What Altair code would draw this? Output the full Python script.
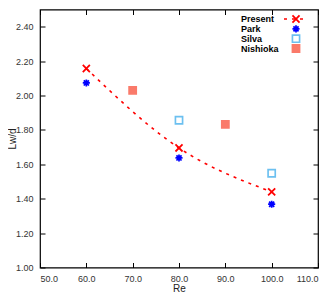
import altair as alt
import pandas as pd

series = ["Present", "Park", "Silva", "Nishioka"]
present_re = [60, 80, 100]
present_lw = [2.157, 1.695, 1.44]
park_re = [60, 80, 100]
park_lw = [2.073, 1.637, 1.368]
silva_re = [80, 100]
silva_lw = [1.856, 1.548]
nishioka_re = [70, 90]
nishioka_lw = [2.03, 1.832]

x_ticks = [50, 60, 70, 80, 90, 100, 110]
y_ticks = [1.0, 1.2, 1.4, 1.6, 1.8, 2.0, 2.2, 2.4]

rows = []
for name, xs, ys in [("Present", present_re, present_lw), ("Park", park_re, park_lw),
                     ("Silva", silva_re, silva_lw), ("Nishioka", nishioka_re, nishioka_lw)]:
    for a, b in zip(xs, ys):
        rows.append({"Re": a, "Lw": b, "series": name})
df = pd.DataFrame(rows)
line_df = pd.DataFrame({"Re": present_re, "Lw": present_lw})
leg_df = pd.DataFrame({"series": series})

FONT = "Liberation Sans"
asterisk = "M-1,0L1,0M0,-1L0,1M-0.72,-0.72L0.72,0.72M-0.72,0.72L0.72,-0.72"
cross = "M-1,-1L1,1M-1,1L1,-1"

xscale = alt.Scale(domain=[50, 110], nice=False, zero=False)
yscale = alt.Scale(domain=[1.0, 2.5], nice=False, zero=False)
legy = alt.Y("series:N", scale=alt.Scale(type="point", domain=series, range=[9.5, 39], padding=0), axis=None)

color_enc = alt.Color("series:N", scale=alt.Scale(domain=series,
                      range=["#ff0000", "#0000ff", "#6cc0f0", "#fa7a6a"]), legend=None)
shape_enc = alt.Shape("series:N", scale=alt.Scale(domain=series,
                      range=[cross, asterisk, "square", "square"]), legend=None)
fill_enc = alt.Fill("series:N", scale=alt.Scale(domain=series,
                    range=["transparent", "transparent", "transparent", "#fa7a6a"]), legend=None)
size_enc = alt.Size("series:N", scale=alt.Scale(domain=series, range=[50, 52, 36, 50]), legend=None)
sw_enc = alt.StrokeWidth("series:N", scale=alt.Scale(domain=series, range=[1.8, 1.6, 1.6, 1.0]), legend=None)


def ax(orient, labels, values, fmt, title=None, tpad=0):
    return alt.Axis(orient=orient, values=values, format=fmt, labels=labels, domain=False,
                    grid=False, ticks=True, tickSize=5, offset=-5, tickColor="black",
                    labelFont=FONT, labelFontSize=9, labelColor="#333333", labelPadding=7,
                    titleFont=FONT, titleFontSize=10, titleFontWeight="normal",
                    titleColor="#222222", title=title, titlePadding=tpad)


line = alt.Chart(line_df).mark_line(
    color="#ff0000", strokeDash=[3, 5], strokeWidth=1.6, interpolate="monotone"
).encode(
    x=alt.X("Re:Q", scale=xscale, axis=ax("top", False, x_ticks, ".1f")),
    y=alt.Y("Lw:Q", scale=yscale, axis=ax("right", False, y_ticks, ".2f")),
)

pts = alt.Chart(df).mark_point(filled=False, opacity=1).encode(
    x=alt.X("Re:Q", scale=xscale, axis=ax("bottom", True, x_ticks, ".1f", "Re", 0)),
    y=alt.Y("Lw:Q", scale=yscale, axis=ax("left", True, y_ticks, ".2f", "Lw/d", -2)),
    color=color_enc, shape=shape_enc, fill=fill_enc, size=size_enc, strokeWidth=sw_enc,
)

leg_rule = alt.Chart(leg_df).transform_filter(alt.datum.series == "Present").mark_rule(
    color="#ff0000", strokeDash=[3, 5], strokeWidth=1.6
).encode(x=alt.value(244), x2=alt.value(268), y=legy)

leg_pts = alt.Chart(leg_df).mark_point(filled=False, opacity=1).encode(
    x=alt.value(256), y=legy,
    color=color_enc, shape=shape_enc, fill=fill_enc, size=size_enc, strokeWidth=sw_enc,
)

leg_txt = alt.Chart(leg_df).mark_text(
    align="left", baseline="middle", font=FONT, fontSize=9, fontWeight="bold", color="black"
).encode(x=alt.value(201), y=legy, text="series:N")

chart = alt.layer(line, pts, leg_rule, leg_pts, leg_txt).resolve_axis(
    x="independent", y="independent"
).resolve_scale(y="independent").properties(
    width=278, height=258, autosize=alt.AutoSizeParams(type="none"),
    padding={"left": 32, "top": 1.5, "right": 6, "bottom": 30},
).configure_view(stroke="black", strokeWidth=1.2)

chart.save("out.html", embed_options={"renderer": "svg", "actions": False})
